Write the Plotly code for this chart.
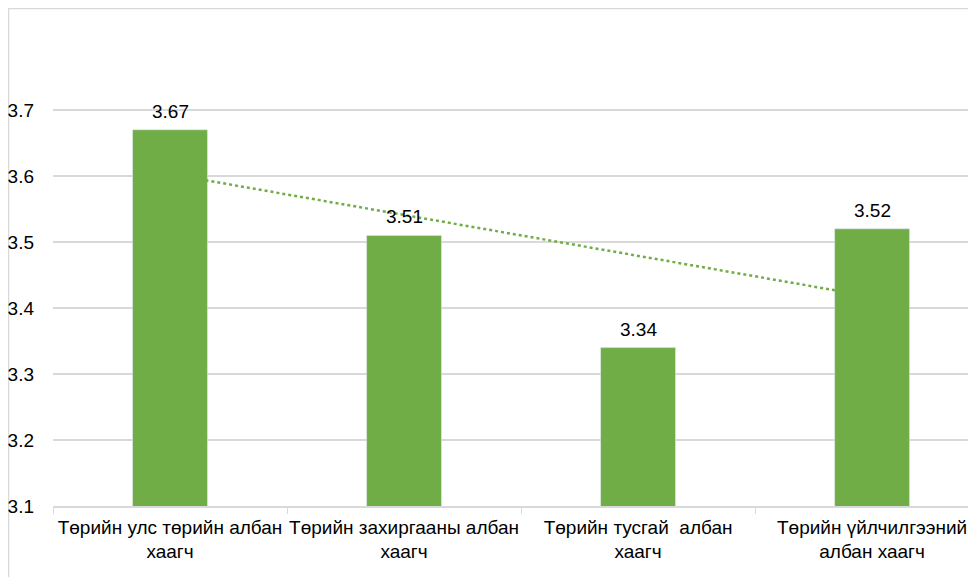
import numpy as np
import plotly.graph_objects as go

# Data
categories = [
    "Төрийн улс төрийн албан<br>хаагч",
    "Төрийн захиргааны албан<br>хаагч",
    "Төрийн тусгай  албан<br>хаагч",
    "Төрийн үйлчилгээний<br>албан хаагч",
]
scores = [3.67, 3.51, 3.34, 3.52]
y_ticks = [3.1, 3.2, 3.3, 3.4, 3.5, 3.6, 3.7]

COLORS = {
    'bar': '#70AD47',
    'grid': '#D9D9D9',
    'text': '#000000',
}

# Linear trendline (least squares over the bars, like Excel)
xi = np.arange(len(scores))
slope, intercept = np.polyfit(xi, scores, 1)
trend = slope * xi + intercept

fig = go.Figure()

# trendline first so the bars sit on top of it
fig.add_trace(go.Scatter(
    x=categories,
    y=trend,
    mode='lines',
    line=dict(color=COLORS['bar'], width=2.5, dash='dot'),
    hoverinfo='skip',
    showlegend=False,
))

fig.add_trace(go.Bar(
    x=categories,
    y=scores,
    width=0.32,
    marker=dict(color=COLORS['bar']),
    showlegend=False,
))

# value labels above bars
for cat, val in zip(categories, scores):
    fig.add_annotation(
        x=cat, y=val, text=f"{val:.2f}",
        showarrow=False, yanchor='bottom', yshift=6,
        font=dict(size=19, color=COLORS['text']),
    )

fig.update_layout(
    width=976,
    height=577,
    paper_bgcolor='white',
    plot_bgcolor='white',
    font=dict(family="Arial, 'Liberation Sans', sans-serif", size=19, color=COLORS['text']),
    margin=dict(l=45, r=8, t=36, b=79),
    shapes=[dict(
        type='rect', xref='paper', yref='paper',
        x0=-0.0482, x1=1.05, y0=-0.3, y1=1.0768,
        line=dict(color='#D9D9D9', width=1.5),
        fillcolor='rgba(0,0,0,0)', layer='below',
    )],
)

fig.update_xaxes(
    range=[-0.5, 3.444],
    automargin=False,
    tickangle=0,
    showline=True,
    linecolor=COLORS['grid'],
    linewidth=1.5,
    ticks='outside',
    tickson='boundaries',
    ticklen=6,
    tickcolor=COLORS['grid'],
    showgrid=False,
    ticklabelstandoff=3,
    tickfont=dict(size=19),
)

fig.update_yaxes(
    range=[3.1, 3.8],
    automargin=False,
    tickvals=y_ticks,
    ticktext=[f"{v:.1f}" for v in y_ticks],
    showgrid=True,
    gridcolor=COLORS['grid'],
    gridwidth=1.5,
    zeroline=False,
    showline=False,
    ticklabelstandoff=18,
    tickfont=dict(size=19),
)

fig.write_html("out.html")
